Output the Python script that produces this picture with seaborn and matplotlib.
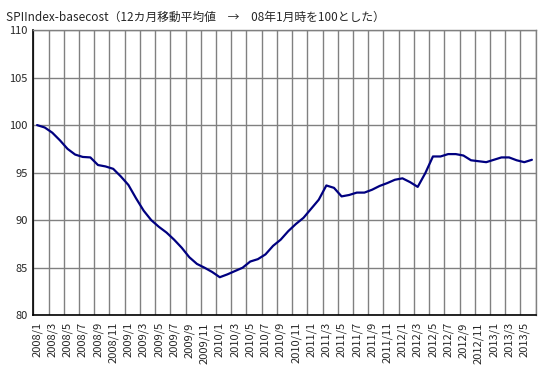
import numpy as np
import pandas as pd
import matplotlib
matplotlib.use("Agg")
import matplotlib.pyplot as plt
import seaborn as sns

# monthly 12-month moving average, 2008/1 = 100
months = [f"{y}/{m}" for y in range(2008, 2014) for m in range(1, 13)][:66]
values = [100.0, 99.75, 99.2, 98.4, 97.5, 96.9, 96.65, 96.6, 95.8, 95.65, 95.4, 94.6,
          93.7, 92.3, 91.0, 90.0, 89.3, 88.7, 87.95, 87.1, 86.1, 85.4, 85.0, 84.55,
          84.0, 84.3, 84.65, 85.0, 85.65, 85.9, 86.4, 87.3, 87.95, 88.85, 89.6, 90.25,
          91.2, 92.15, 93.65, 93.4, 92.5, 92.65, 92.9, 92.9, 93.2, 93.6, 93.9, 94.25,
          94.4, 94.0, 93.5, 94.95, 96.7, 96.7, 96.95, 96.95, 96.8, 96.3, 96.2, 96.1,
          96.35, 96.6, 96.6, 96.3, 96.1, 96.35]
title = "SPIIndex-basecost（12カ月移動平均値　→　08年1月時を100とした）"

df = pd.DataFrame({"idx": np.arange(len(months)), "month": months, "value": values})

sns.set_style("white")
plt.rcParams['font.family'] = ['Noto Sans CJK JP', 'DejaVu Sans']

fig = plt.figure(figsize=(5.5, 3.78), dpi=100)
ax = fig.add_axes([0.0605, 0.166, 0.9135, 0.7546])

sns.lineplot(data=df, x="idx", y="value", color="#000080", linewidth=1.6, ax=ax)

ax.set_xlim(-0.5, len(months) - 0.5)
ax.set_ylim(80, 110)
ax.set_yticks(range(80, 111, 5))
ax.set_xticks(df["idx"][::2])
ax.set_xticklabels(df["month"][::2], rotation=90, fontsize=8)
ax.set_xticks(np.arange(-0.5, len(months), 2), minor=True)
ax.tick_params(axis="y", labelsize=8, length=0, pad=4)
ax.tick_params(axis="x", which="both", length=0, pad=5)

ax.grid(True, axis="y", color="#808080", linewidth=1)
ax.grid(True, axis="x", which="minor", color="#808080", linewidth=1)
ax.grid(False, axis="x", which="major")
ax.set_axisbelow(True)

ax.set_xlabel("")
ax.set_ylabel("")
for s in ["top", "right"]:
    ax.spines[s].set_color("#808080")
    ax.spines[s].set_linewidth(1)
for s in ["left", "bottom"]:
    ax.spines[s].set_color("black")
    ax.spines[s].set_linewidth(1.2)

fig.text(0.01, 0.955, title, fontsize=8.5, ha="left", va="center")

fig.savefig("out.png", dpi=100)
